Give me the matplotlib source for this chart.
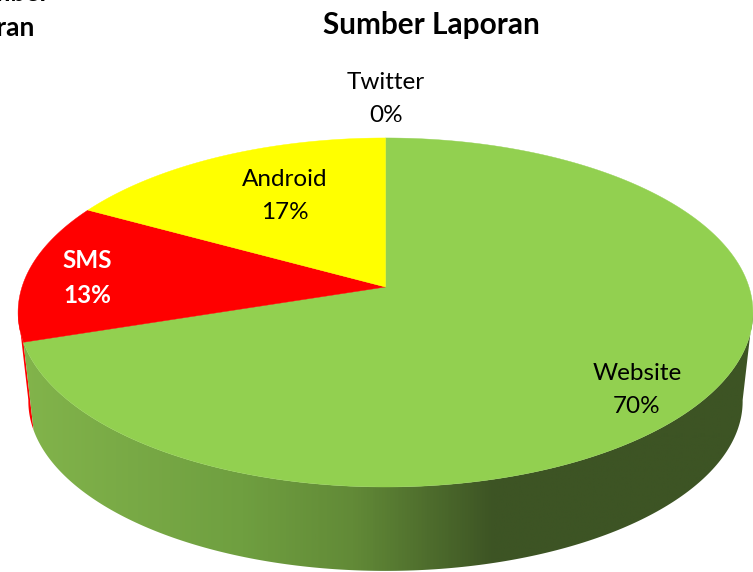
import numpy as np
import matplotlib.pyplot as plt
from matplotlib.colors import LinearSegmentedColormap
from matplotlib.patches import Polygon

plt.rcParams['font.family'] = ['Lato', 'DejaVu Sans']

# share of reports, clockwise from 12 o'clock
sources = ['Website', 'SMS', 'Android', 'Twitter']
shares = [70, 13, 17, 0]
colors = ['#92d050', '#ff0000', '#ffff00', '#92d050']
label_colors = ['black', 'white', 'black', 'black']
label_weights = ['normal', 'bold', 'normal', 'normal']
label_pos = [(637, 390), (87, 278), (285, 196), (386, 99)]

# side wall shading, left to right
side_stops = [0.0, 0.3, 0.45, 0.64, 1.0]
side_colors = ['#82b44b', '#6f9f40', '#628a37', '#3d5424', '#3d5424']

# perspective of the tilted disc, in pixels
cx = 385.5
apex_top = 287
apex_low = 376.5
rx = 363.5
ry = 170.8
k = 0.146
shrink = 0.972


def rim(theta, apex=apex_top, scale=1.0):
    # theta in degrees, clockwise from the top of the disc
    t = np.radians(theta)
    d = 1 + k * np.cos(t)
    return cx + scale * rx * np.sin(t) / d, apex - scale * ry * np.cos(t) / d


def side_path(a, b):
    th = np.linspace(a, b, 200)
    x1, y1 = rim(th)
    x2, y2 = rim(th[::-1], apex_low, shrink)
    return np.column_stack([np.r_[x1, x2], np.r_[y1, y2]])


fig = plt.figure(figsize=(7.53, 5.72), dpi=100)
ax = fig.add_axes([0, 0, 1, 1])
ax.set_xlim(0, 753)
ax.set_ylim(572, 0)
ax.axis('off')

edges = np.r_[0, np.cumsum(shares)] * 3.6

# side wall: red sliver first, then the shaded green part
sms_side = Polygon(side_path(edges[1], 262), color=colors[1], lw=0, zorder=1)
ax.add_patch(sms_side)

cmap = LinearSegmentedColormap.from_list('side', list(zip(side_stops, side_colors)))
grad = ax.imshow(np.linspace(0, 1, 700).reshape(1, -1), cmap=cmap, aspect='auto',
                 extent=(20, 760, 572, 300), zorder=2)
side = Polygon(side_path(98, edges[1]), transform=ax.transData, fc='none', lw=0)
ax.add_patch(side)
grad.set_clip_path(side)
ax.set_xlim(0, 753)
ax.set_ylim(572, 0)

# top of the pie
for i in range(len(shares)):
    if shares[i] == 0:
        continue
    th = np.linspace(edges[i], edges[i + 1], 300)
    x, y = rim(th)
    pts = np.column_stack([np.r_[cx, x], np.r_[apex_top, y]])
    ax.add_patch(Polygon(pts, fc=colors[i], ec=colors[i], lw=0.3, zorder=3))

# labels
for i in range(len(sources)):
    ax.text(label_pos[i][0], label_pos[i][1], f'{sources[i]}\n{shares[i]}%',
            ha='center', va='center', fontsize=17.5, color=label_colors[i],
            fontweight=label_weights[i], linespacing=1.66, zorder=4)

# titles, the left one is cut off by the picture edge
ax.text(431, 25, 'Sumber Laporan', ha='center', va='center', fontsize=21.4, fontweight='bold')
ax.text(35, 36, 'Laporan', ha='right', va='baseline', fontsize=19, fontweight='bold', clip_on=True)
ax.text(50, 1.4, 'Sumber', ha='right', va='baseline', fontsize=19, fontweight='bold', clip_on=True)

fig.savefig('out.png', dpi=100)
